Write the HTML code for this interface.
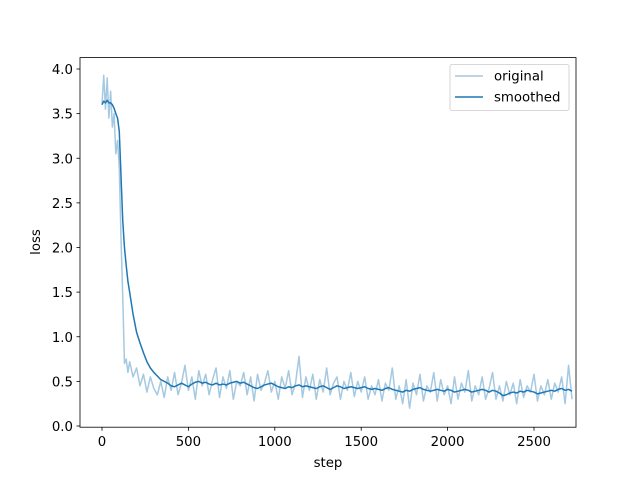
<!DOCTYPE html>
<html><head><meta charset="utf-8"><style>
body{margin:0;background:#fff;}
svg text{font-family:"DejaVu Sans","Liberation Sans",sans-serif;font-size:13.3px;fill:#000;}
</style></head><body>
<svg id="chart" width="640" height="480" xmlns="http://www.w3.org/2000/svg">
<rect width="640" height="480" fill="#fff"/>
<g id="plot"></g>
<rect x="80" y="57.6" width="496" height="369.6" fill="none" stroke="#000" stroke-width="0.8"/>
<g id="axes"></g>
<text x="328" y="467" text-anchor="middle">step</text>
<text transform="translate(40,242) rotate(-90)" text-anchor="middle">loss</text>
<g>
<rect x="450" y="64.5" width="119" height="46" rx="2" fill="#fff" stroke="#ccc" stroke-width="0.8"/>
<line x1="455" y1="76" x2="483" y2="76" stroke="#1f77b4" stroke-opacity="0.4" stroke-width="1.5"/>
<text x="494" y="80.5">original</text>
<line x1="455" y1="97" x2="483" y2="97" stroke="#1f77b4" stroke-width="1.5"/>
<text x="494" y="101.5">smoothed</text>
</g>
</svg>
<script>
const original = [3.60,3.93,3.55,3.90,3.45,3.75,3.35,3.50,3.05,3.20,2.90,2.10,1.45,0.70,0.75,0.60,0.72,
0.55,0.65,0.45,0.58,0.38,0.55,0.42,0.35,0.50,0.32,0.55,0.40,0.60,0.35,0.48,0.68,0.40,0.55,0.30,0.62,0.45,0.58,0.35,0.52,0.65,0.32,0.55,0.42,0.62,0.30,0.50,0.45,0.60,0.35,0.55,0.28,0.58,0.40,0.48,0.62,0.38,0.50,0.30,0.55,0.42,0.62,0.35,0.48,0.78,0.32,0.55,0.40,0.58,0.30,0.52,0.38,0.65,0.35,0.48,0.55,0.30,0.50,0.40,0.60,0.33,0.50,0.38,0.55,0.30,0.45,0.35,0.52,0.28,0.48,0.40,0.65,0.30,0.45,0.25,0.52,0.20,0.48,0.35,0.58,0.28,0.45,0.38,0.60,0.28,0.52,0.35,0.45,0.25,0.55,0.30,0.48,0.38,0.62,0.28,0.45,0.35,0.55,0.30,0.42,0.60,0.30,0.45,0.28,0.50,0.35,0.48,0.25,0.52,0.32,0.45,0.38,0.58,0.28,0.45,0.35,0.52,0.30,0.48,0.38,0.55,0.25,0.68,0.30];
const smoothed = [3.60,3.64,3.62,3.65,3.62,3.62,3.60,3.56,3.50,3.45,3.30,2.80,2.30,2.00,1.80,1.62,1.50,
1.25,1.05,0.93,0.82,0.72,0.65,0.60,0.56,0.52,0.50,0.48,0.45,0.44,0.46,0.48,0.46,0.44,0.47,0.49,0.50,0.48,0.49,0.47,0.46,0.48,0.46,0.47,0.46,0.48,0.49,0.50,0.48,0.49,0.47,0.45,0.43,0.42,0.44,0.46,0.47,0.48,0.46,0.44,0.43,0.42,0.44,0.43,0.45,0.46,0.44,0.45,0.44,0.43,0.42,0.44,0.45,0.43,0.41,0.43,0.45,0.44,0.42,0.43,0.44,0.43,0.42,0.43,0.44,0.42,0.41,0.42,0.41,0.40,0.42,0.43,0.41,0.40,0.39,0.38,0.40,0.39,0.41,0.42,0.43,0.41,0.40,0.39,0.40,0.41,0.40,0.39,0.41,0.40,0.38,0.39,0.40,0.41,0.40,0.38,0.39,0.40,0.41,0.40,0.38,0.40,0.39,0.37,0.34,0.35,0.37,0.38,0.37,0.39,0.38,0.40,0.39,0.38,0.36,0.37,0.38,0.39,0.40,0.39,0.41,0.42,0.40,0.41,0.39];
const xTicks = [0,500,1000,1500,2000,2500];
const yTicks = [0.0,0.5,1.0,1.5,2.0,2.5,3.0,3.5,4.0];
const steps = [];
for (let i = 0; i < 17; i++) steps.push(i*10);
while (steps.length < original.length) steps.push(160 + (steps.length-16)*20);

const xs = s => 102 + s*0.1728;
const ys = v => 426 - v*89.25;
const NS = "http://www.w3.org/2000/svg";
const plot = document.getElementById('plot');
const axes = document.getElementById('axes');
function mk(tag, attrs, parent){const e=document.createElementNS(NS,tag);for(const k in attrs)e.setAttribute(k,attrs[k]);parent.appendChild(e);return e;}
function path(vals){const n=Math.min(vals.length,steps.length);let d='';for(let i=0;i<n;i++)d+=(i?'L':'M')+xs(steps[i]).toFixed(2)+','+ys(vals[i]).toFixed(2);return d;}
const p1 = mk('path',{d:path(original),fill:'none',stroke:'#1f77b4','stroke-opacity':0.4,'stroke-width':1.5,'stroke-linejoin':'round'},plot);


const p2 = mk('path',{d:path(smoothed),fill:'none',stroke:'#1f77b4','stroke-width':1.5,'stroke-linejoin':'round'},plot);


xTicks.forEach(t=>{const x=xs(t);
 const l=mk('line',{x1:x,x2:x,y1:427.2,y2:430.7,stroke:'#000','stroke-width':0.8},axes);
 
 
 const tx=mk('text',{x:x,y:446,'text-anchor':'middle'},axes);tx.textContent=t;
 
 
});
yTicks.forEach(t=>{const y=ys(t);
 const l=mk('line',{x1:76.5,x2:80,y1:y,y2:y,stroke:'#000','stroke-width':0.8},axes);
 
 
 const tx=mk('text',{x:73,y:y+5,'text-anchor':'end'},axes);tx.textContent=t.toFixed(1);
 
 
});
</script>
</body></html>
